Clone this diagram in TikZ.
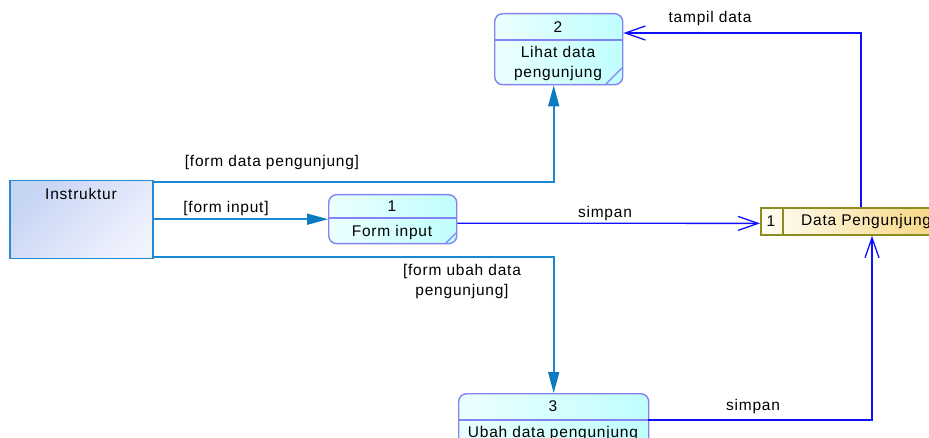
\documentclass[tikz,border=0pt]{standalone}
\usepackage{fontspec}
\setmainfont{Liberation Sans}[LetterSpace=5]
\usetikzlibrary{arrows.meta,calc}
\definecolor{instrborder}{HTML}{2A8AD0}
\definecolor{instrA}{HTML}{C6D4F4}
\definecolor{instrB}{HTML}{F0F2FD}
\definecolor{steel}{HTML}{1888D2}
\definecolor{steeltip}{HTML}{0A7BC0}
\definecolor{procborder}{HTML}{8383F3}
\definecolor{procA}{HTML}{ECFFFF}
\definecolor{procB}{HTML}{C0FEFE}
\definecolor{flowblue}{HTML}{1010FF}
\definecolor{storeborder}{HTML}{8C8C20}
\definecolor{storeA}{HTML}{FFFEF6}
\definecolor{storeB}{HTML}{F4CE6C}
\begin{document}
\begin{tikzpicture}[x=1pt,y=-1pt,
  font=\fontsize{15.5}{20}\selectfont,
  proc/.style={draw=procborder, line width=1.4pt, rounded corners=8pt,
    left color=procA, right color=procB, inner sep=0pt, anchor=north west},
  procline/.style={draw=procborder, line width=1.4pt},
  entity/.style={draw=instrborder, line width=1.5pt, top color=instrA,
    bottom color=instrB, shading angle=45, inner sep=0pt, anchor=north west},
  store/.style={draw=storeborder, line width=1.8pt, left color=storeA,
    right color=storeB, inner sep=0pt, anchor=north west},
  flowA/.style={draw=steel, color=steel, line width=1.6pt,
    -{Triangle[length=21pt,width=11pt,color=steeltip]}},
  flowB/.style={color=flowblue, line width=1.3pt,
    -{Straight Barb[length=20pt,width=14pt,line width=1.3pt]}},
  txt/.style={inner sep=0pt, text=black}]
\clip (0,0) rectangle (929,438);
\fill[white] (0,0) rectangle (929,438);

% external entity
\node[entity, minimum width=143pt, minimum height=78pt] (instr) at (9,180) {};
\node[txt] (instrlbl) at (81,194) {Instruktur};

% process 2
\node[proc, minimum width=128pt, minimum height=71pt] (p2) at (494,13) {};
\draw[procline] (494,40) -- (622,40);
\draw[procline] (606,84) -- (622,68);
\node[txt] (p2num) at (558,27) {2};
\node[txt, align=center] (p2txt) at (558,63) {Lihat data\\pengunjung};

% process 1
\node[proc, minimum width=128pt, minimum height=49pt] (p1) at (328,194) {};
\draw[procline] (328,218) -- (456,218);
\draw[procline] (446,243) -- (456,233);
\node[txt] (p1num) at (392,206) {1};
\node[txt] (p1txt) at (392,232) {Form input};

% process 3
\node[proc, minimum width=190pt, minimum height=62pt] (p3) at (458,393) {};
\draw[procline] (458,420) -- (648,420);
\node[txt] (p3num) at (553,406) {3};
\node[txt] (p3txt) at (553,433) {Ubah data pengunjung};

% data store
\node[store, minimum width=210pt, minimum height=27pt] (ds) at (760,207) {};
\draw[storeborder, line width=1.8pt] (783,207) -- (783,234);
\node[txt] (dsnum) at (771,221) {1};
\node[txt, anchor=west] (dstxt) at (801,221) {Data Pengunjung};

% flows from entity
\coordinate (a1) at ($(instr.north east)+(0,1.75)$);
\coordinate (b1) at ($(p2.south)+(-5,0)$);
\draw[flowA] (a1) -- (a1 -| b1) -- (b1);
\draw[flowA] (instr.east |- p1.west) -- (p1.west);
\coordinate (a3) at ($(instr.south east)+(0,-2.75)$);
\draw[flowA] (a3) -- (a3 -| p3.north) -- (p3.north);

% flows to/from store
\draw[flowB] ($(p1.east)+(0,4)$) -- ($(ds.west)+(0,2)$);
\draw[flowB] ($(ds.north west)+(101,0)$) |- ($(p2.north east)+(0,20)$);
\draw[flowB] (648,420) -| ($(ds.south west)+(112,0)$);

% labels
\node[txt] (l1) at (272,162) {[form data pengunjung]};
\node[txt] (l2) at (226,208) {[form input]};
\node[txt, align=center] (l3) at (462,281) {[form ubah data\\ pengunjung]};
\node[txt] (l4) at (605,213) {simpan};
\node[txt] (l5) at (710,18) {tampil data};
\node[txt] (l6) at (753,406) {simpan};
\end{tikzpicture}
\end{document}
